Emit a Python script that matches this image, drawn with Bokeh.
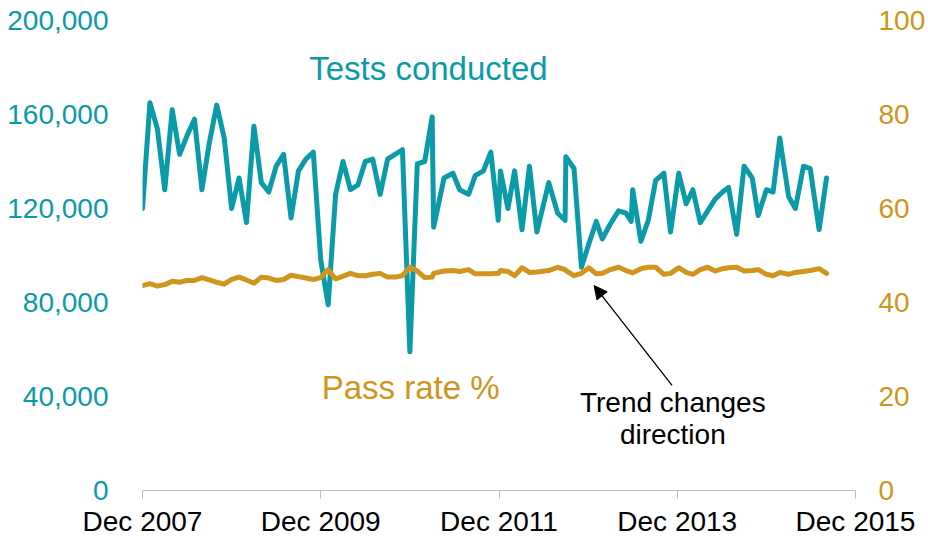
from bokeh.plotting import figure
from bokeh.models import (Range1d, LinearAxis, FixedTicker, NumeralTickFormatter,
                          Label, Arrow, NormalHead)
from bokeh.embed import file_html
from bokeh.resources import INLINE

# months since Dec 2007
months = [0, 1, 2, 3, 4, 5, 6, 7, 8, 9, 10, 11, 12, 13, 14, 15, 16, 17, 18, 19,
          20, 21, 22, 23, 24, 25, 26, 27, 28, 29, 30, 31, 32, 33, 34, 35, 36, 37, 38, 39,
          39.2, 40.6, 41.8, 42.7, 43.9, 44.8, 45.9, 46.9, 47.9, 48.2,
          49.2, 50.1, 51.1, 52.1, 53.1, 54.7, 55.9, 56.9, 57.0, 58.1,
          59.1, 60.1, 61.1, 61.9, 63.0, 64.1, 65.1, 65.8, 66.0, 67.1,
          68.1, 69.1, 70.2, 71.1, 72.2, 73.2, 74.1, 75.1, 76.1, 77.1,
          78.1, 78.9, 80.0, 81.0, 82.1, 82.9, 84.0, 84.9, 85.8, 87.0,
          87.9, 89.0, 89.9, 91.1, 92.1]

# tests conducted (thousands)
tests_k = [120, 165, 154, 128, 162, 143, 151, 158, 128, 148, 164, 150, 120, 133, 114, 155,
           131, 127, 138, 143, 116, 136, 141, 144, 98, 79, 126, 140, 128, 130, 140, 141,
           126, 141, 143, 145, 59, 139, 140, 159,
           112, 133, 135, 128, 126, 134, 136, 144, 115, 136,
           120, 136, 111, 138, 110, 131, 118, 115, 142, 137,
           95, 105, 114.5, 107, 113.5, 119, 118, 114.5, 128, 106,
           115, 132, 135, 110, 135, 122, 128, 114, 119, 124,
           127, 129, 109, 138, 133, 117, 128, 127, 150, 125,
           120, 138, 137, 111, 133]

# pass rate (%)
pass_rate = [43.6, 44.0, 43.5, 43.8, 44.5, 44.3, 44.7, 44.7, 45.3, 44.8, 44.3, 43.9, 44.9,
             45.4, 44.8, 44.1, 45.4, 45.2, 44.7, 44.9, 45.8, 45.5, 45.2, 44.9, 45.3, 47.0,
             45.0, 45.6, 46.2, 45.7, 45.7, 46.0, 46.2, 45.4, 45.4, 45.7, 47.5, 46.7, 45.3, 45.4,
             46.2, 46.7, 46.8, 46.6, 47.0, 46.1, 46.1, 46.1, 46.2, 46.8,
             46.6, 45.7, 47.4, 46.4, 46.5, 46.8, 47.5, 47.0, 46.8, 45.7,
             46.2, 47.4, 46.1, 46.2, 47.0, 47.5, 46.8, 46.4, 46.3, 47.2,
             47.5, 47.5, 46.0, 46.2, 47.4, 46.4, 46.0, 47.0, 47.5, 46.7,
             47.2, 47.4, 47.5, 46.7, 46.8, 47.0, 46.0, 45.7, 46.4, 46.0,
             46.4, 46.6, 46.8, 47.2, 46.2]

tests = [v * 1000 for v in tests_k]

x_ticks = [0, 24, 48, 72, 96]
x_tick_labels = ["Dec 2007", "Dec 2009", "Dec 2011", "Dec 2013", "Dec 2015"]
left_ticks = [0, 40000, 80000, 120000, 160000, 200000]
right_ticks = [0, 20, 40, 60, 80, 100]

TEAL = "#0a9aa8"
GOLD = "#cf951c"
FONT = "Liberation Sans"

p = figure(frame_width=713, frame_height=470,
           min_border_left=142, min_border_right=72, min_border_top=20, min_border_bottom=46,
           x_range=Range1d(0, 96), y_range=Range1d(0, 200000),
           output_backend="svg", toolbar_location=None)
p.extra_y_ranges = {"rate": Range1d(0, 100)}
p.outline_line_color = None
p.grid.visible = False
p.background_fill_color = "white"
p.border_fill_color = "white"

p.line(months, tests, color=TEAL, line_width=5, line_join="round", line_cap="round")
p.line(months, pass_rate, color=GOLD, line_width=5, line_join="round", line_cap="round",
       y_range_name="rate")

# x axis
xa = p.xaxis[0]
xa.ticker = FixedTicker(ticks=x_ticks)
xa.major_label_overrides = {t: l for t, l in zip(x_ticks, x_tick_labels)}
xa.axis_line_color = "#bfbfbf"
xa.major_tick_line_color = "#bfbfbf"
xa.major_tick_out = 8
xa.major_tick_in = 0
xa.minor_tick_line_color = None
xa.major_label_standoff = 7
xa.major_label_text_font = FONT
xa.major_label_text_font_size = "28px"
xa.major_label_text_color = "black"

# left axis
ya = p.yaxis[0]
ya.ticker = FixedTicker(ticks=left_ticks)
ya.formatter = NumeralTickFormatter(format="0,0")
ya.axis_line_color = None
ya.major_tick_line_color = None
ya.minor_tick_line_color = None
ya.major_tick_out = 0
ya.major_tick_in = 0
ya.major_label_standoff = 34
ya.major_label_text_font = FONT
ya.major_label_text_font_size = "28px"
ya.major_label_text_color = TEAL

# right axis
ra = LinearAxis(y_range_name="rate", ticker=FixedTicker(ticks=right_ticks))
ra.axis_line_color = None
ra.major_tick_line_color = None
ra.minor_tick_line_color = None
ra.major_tick_out = 0
ra.major_tick_in = 0
ra.major_label_standoff = 23
ra.major_label_text_font = FONT
ra.major_label_text_font_size = "28px"
ra.major_label_text_color = GOLD
p.add_layout(ra, "right")

# annotations
p.add_layout(Label(x=38.5, y=179600, text="Tests conducted", text_align="center",
                   text_baseline="middle", text_font=FONT, text_font_size="33px",
                   text_color=TEAL))
p.add_layout(Label(x=36.1, y=43800, text="Pass rate %", text_align="center",
                   text_baseline="middle", text_font=FONT, text_font_size="33px",
                   text_color=GOLD))
p.add_layout(Label(x=71.4, y=37400, text="Trend changes", text_align="center",
                   text_baseline="middle", text_font=FONT, text_font_size="28px",
                   text_color="black"))
p.add_layout(Label(x=71.4, y=23800, text="direction", text_align="center",
                   text_baseline="middle", text_font=FONT, text_font_size="28px",
                   text_color="black"))
p.add_layout(Arrow(end=NormalHead(size=13, fill_color="black", line_color="black"),
                   x_start=71.3, y_start=44700, x_end=60.8, y_end=87200,
                   line_color="black", line_width=1.3))

open("out.html", "w").write(file_html(p, INLINE))
